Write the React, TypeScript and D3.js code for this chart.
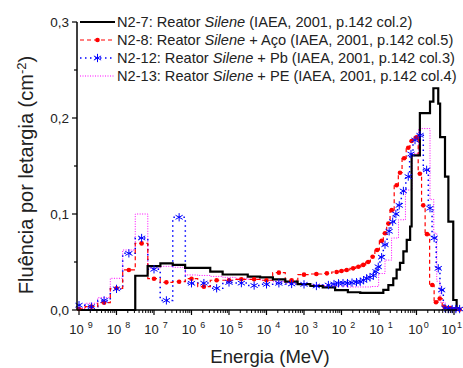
import * as d3 from "d3";

// energies are given as log10(E / MeV)
// N2-7 black histogram: bin edges and bin values
const n27Edges = [-9, -7.5, -7.17, -6.83, -6.5, -6.17, -5.5, -5.17, -4.5, -4.17, -3.83, -3.5, -3.17, -2.83, -2.5, -2.17, -1.83, -1.5, -0.885, -0.75, -0.62, -0.53, -0.44, -0.35, -0.26, -0.17, -0.13, 0.09, 0.36, 0.45, 0.58, 0.63, 0.76, 0.85, 0.98, 1.07, 1.12];
const n27Values = [0, 0.0357, 0.0458, 0.0486, 0.047, 0.0438, 0.04, 0.037, 0.0347, 0.034, 0.032, 0.0295, 0.027, 0.025, 0.0235, 0.0208, 0.0185, 0.0178, 0.021, 0.026, 0.033, 0.042, 0.049, 0.061, 0.073, 0.087, 0.161, 0.205, 0.217, 0.231, 0.215, 0.18, 0.139, 0.092, 0.0104, 0];

// N2-8 (aço) bin centres / values
const n28LogE = [-9, -8.67, -8.33, -8, -7.67, -7.33, -7, -6.67, -6.33, -6, -5.67, -5.33, -5, -4.67, -4.33, -4, -3.67, -3.33, -3, -2.67, -2.39, -2.13, -2, -1.86, -1.69, -1.55, -1.42, -1.29, -1.17, -1.05, -0.93, -0.84, -0.75, -0.66, -0.53, -0.44, -0.33, -0.22, -0.13, 0, 0.09, 0.18, 0.28, 0.42, 0.52, 0.62, 0.75, 0.9, 1.05, 1.15];
const n28Values = [0.001, 0.0035, 0.0076, 0.0226, 0.0417, 0.0694, 0.0326, 0.0288, 0.0295, 0.0326, 0.0243, 0.031, 0.031, 0.032, 0.032, 0.031, 0.0389, 0.031, 0.0368, 0.0375, 0.0382, 0.0396, 0.0406, 0.0417, 0.0434, 0.045, 0.047, 0.05, 0.0555, 0.0625, 0.072, 0.08, 0.09, 0.104, 0.13, 0.143, 0.158, 0.169, 0.176, 0.18, 0.142, 0.109, 0.079, 0.026, 0.008, 0.012, 0.003, 0.002, 0.001, 0.0005];

// N2-12 (Pb)
const n212LogE = [-9, -8.67, -8.33, -8, -7.67, -7.33, -7, -6.67, -6.33, -6, -5.67, -5.33, -5, -4.67, -4.33, -4, -3.67, -3.33, -3, -2.67, -2.35, -2.2, -2.08, -1.96, -1.84, -1.72, -1.6, -1.5, -1.41, -1.33, -1.24, -1.15, -1.08, -1.02, -0.93, -0.84, -0.73, -0.635, -0.55, -0.46, -0.35, -0.22, -0.147, -0.04, 0.093, 0.27, 0.36, 0.47, 0.58, 0.67, 0.76, 0.85, 0.95, 1.05, 1.15];
const n212Values = [0.005, 0.0035, 0.01, 0.022, 0.059, 0.075, 0.0424, 0.01, 0.0966, 0.0278, 0.028, 0.0226, 0.0287, 0.028, 0.0255, 0.0267, 0.0278, 0.0271, 0.0267, 0.025, 0.026, 0.027, 0.0278, 0.028, 0.028, 0.0285, 0.029, 0.0295, 0.031, 0.033, 0.034, 0.036, 0.04, 0.045, 0.055, 0.068, 0.082, 0.092, 0.1, 0.109, 0.124, 0.139, 0.1625, 0.177, 0.182, 0.146, 0.106, 0.075, 0.0434, 0.0208, 0.002, 0.001, 0.001, 0.001, 0.001];

// N2-13 (PE)
const n213LogE = [-9, -8.67, -8.33, -8, -7.67, -7.33, -7, -6.67, -6.33, -6, -5.67, -5.33, -5, -4.67, -4.33, -4, -3.67, -3.33, -3, -2.67, -2.33, -2, -1.67, -1.33, -1.1, -0.92, -0.76, -0.57, -0.39, -0.2, -0.04, 0.15, 0.3, 0.42, 0.5, 0.58, 0.68, 0.85, 1.05];
const n213Values = [0.0017, 0.007, 0.0128, 0.033, 0.0625, 0.1, 0.0434, 0.0455, 0.0445, 0.0365, 0.036, 0.035, 0.034, 0.033, 0.032, 0.031, 0.0295, 0.028, 0.027, 0.026, 0.0255, 0.025, 0.024, 0.024, 0.0245, 0.038, 0.052, 0.075, 0.094, 0.125, 0.163, 0.189, 0.189, 0.115, 0.08, 0.03, 0.008, 0.001, 0.001];

const yTicks = [0, 0.1, 0.2, 0.3];
const yMinor = [0.05, 0.15, 0.25];
const xDecades = [-9, -8, -7, -6, -5, -4, -3, -2, -1, 0, 1];

const legendItems = [
  { id: "n27", head: "N2-7: Reator ", tail: " (IAEA, 2001, p.142 col.2)" },
  { id: "n28", head: "N2-8: Reator ", tail: " + Aço (IAEA, 2001, p.142 col.5)" },
  { id: "n212", head: "N2-12: Reator ", tail: " + Pb (IAEA, 2001, p.142 col.3)" },
  { id: "n213", head: "N2-13: Reator ", tail: " + PE (IAEA, 2001, p.142 col.4)" },
];

const FONT = "Arial, 'Liberation Sans', sans-serif";

export default function App() {
  const W = 463, H = 368;
  const x = d3.scaleLog().domain([1e-9, 10]).range([79, 454]);
  const y = d3.scaleLinear().domain([0, 0.3]).range([310, 22]);
  const axisX0 = 77;
  const fmt = (v: number) => d3.format(".1f")(v).replace(".", ",");

  const stepAfter = d3.line<[number, number]>().x((d) => x(10 ** d[0])).y((d) => y(d[1])).curve(d3.curveStepAfter);
  const step = d3.line<[number, number]>().x((d) => x(10 ** d[0])).y((d) => y(d[1])).curve(d3.curveStep);

  const blackPts: [number, number][] = n27Values.map((v, i) => [n27Edges[i], v]);
  blackPts.push([n27Edges[n27Edges.length - 1], n27Values[n27Values.length - 1]]);
  const redPts: [number, number][] = n28LogE.map((e, i) => [e, n28Values[i]]);
  const bluePts: [number, number][] = n212LogE.map((e, i) => [e, n212Values[i]]);
  const magPts: [number, number][] = n213LogE.map((e, i) => [e, n213Values[i]]);

  const star = d3.symbol(d3.symbolAsterisk, 48)();

  const minorX: number[] = [];
  xDecades.slice(0, -1).forEach((k) => {
    for (let m = 2; m <= 9; m++) minorX.push(m * 10 ** k);
  });

  const legendY = (i: number) => 22 + i * 18;

  return (
    <svg width={W} height={H} style={{ position: "absolute", left: 0, top: 0, background: "#fff" }} fontFamily={FONT}>
      <rect width={W} height={H} fill="#fff" />
      {/* series */}
      <path d={step(magPts) || ""} fill="none" stroke="#ff00ff" strokeWidth={1} strokeDasharray="1,1.5" />
      <path d={step(bluePts) || ""} fill="none" stroke="#0000ff" strokeWidth={1.5} strokeDasharray="1.5,3.5" />
      <path d={step(redPts) || ""} fill="none" stroke="#ff0000" strokeWidth={1.2} strokeDasharray="4,3" />
      <path d={stepAfter(blackPts) || ""} fill="none" stroke="#000" strokeWidth={2.2} />
      {redPts.map((d, i) => (
        <circle key={"r" + i} cx={x(10 ** d[0])} cy={y(d[1])} r={2.3} fill="#ff0000" />
      ))}
      {bluePts.map((d, i) => (
        <path key={"b" + i} d={star || ""} transform={`translate(${x(10 ** d[0])},${y(d[1])})`} fill="none" stroke="#0000ff" strokeWidth={1} />
      ))}

      {/* axes */}
      <line x1={axisX0} x2={axisX0} y1={y(0.3)} y2={y(0)} stroke="#000" strokeWidth={1.5} />
      <line x1={axisX0} x2={457} y1={y(0)} y2={y(0)} stroke="#000" strokeWidth={1.5} />
      {yTicks.map((t) => (
        <g key={"yt" + t}>
          <line x1={axisX0 - 5} x2={axisX0} y1={y(t)} y2={y(t)} stroke="#000" strokeWidth={1.2} />
          <text x={axisX0 - 8} y={y(t) + 4.5} textAnchor="end" fontSize={13.5} fill="#222">{fmt(t)}</text>
        </g>
      ))}
      {yMinor.map((t) => (
        <line key={"ym" + t} x1={axisX0 - 3} x2={axisX0} y1={y(t)} y2={y(t)} stroke="#000" strokeWidth={1.2} />
      ))}
      {xDecades.map((k) => {
        const last = k === xDecades[xDecades.length - 1];
        return (
          <g key={"xt" + k}>
            <line x1={x(10 ** k)} x2={x(10 ** k)} y1={y(0)} y2={y(0) + 5} stroke="#000" strokeWidth={1.2} />
            <text x={last ? 462 : x(10 ** k) + 2} y={334} textAnchor={last ? "end" : "middle"} fontSize={13} fill="#222">
              10
              <tspan dx={k < 0 ? 4 : 1} dy={-6} fontSize={9}>{Math.abs(k)}</tspan>
            </text>
          </g>
        );
      })}
      {minorX.map((v, i) => (
        <line key={"xm" + i} x1={x(v)} x2={x(v)} y1={y(0)} y2={y(0) + 3} stroke="#000" strokeWidth={1} />
      ))}

      {/* axis titles */}
      <text x={270} y={363} textAnchor="middle" fontSize={18.5} fill="#222">Energia (MeV)</text>
      <text transform="translate(33,175) rotate(-90)" textAnchor="middle" fontSize={20} fill="#222">
        Fluência por letargia (cm<tspan dy={-7} fontSize={13}>-2</tspan><tspan dy={7}>)</tspan>
      </text>

      {/* legend */}
      {legendItems.map((it, i) => {
        const ly = legendY(i);
        return (
          <g key={it.id}>
            {it.id === "n27" && <line x1={80} x2={115} y1={ly} y2={ly} stroke="#000" strokeWidth={2.2} />}
            {it.id === "n28" && (
              <g>
                <line x1={80} x2={115} y1={ly} y2={ly} stroke="#ff0000" strokeWidth={1.2} strokeDasharray="4,3" />
                <circle cx={97.5} cy={ly} r={2.3} fill="#ff0000" />
              </g>
            )}
            {it.id === "n212" && (
              <g>
                <line x1={80} x2={115} y1={ly} y2={ly} stroke="#0000ff" strokeWidth={1.5} strokeDasharray="1.5,3.5" />
                <path d={star || ""} transform={`translate(97.5,${ly})`} fill="none" stroke="#0000ff" strokeWidth={1} />
              </g>
            )}
            {it.id === "n213" && <line x1={80} x2={115} y1={ly} y2={ly} stroke="#ff00ff" strokeWidth={1} strokeDasharray="1,1.5" />}
            <text x={117} y={ly + 5} fontSize={14.6} fill="#222">
              {it.head}
              <tspan fontStyle="italic">Silene</tspan>
              {it.tail}
            </text>
          </g>
        );
      })}
    </svg>
  );
}
